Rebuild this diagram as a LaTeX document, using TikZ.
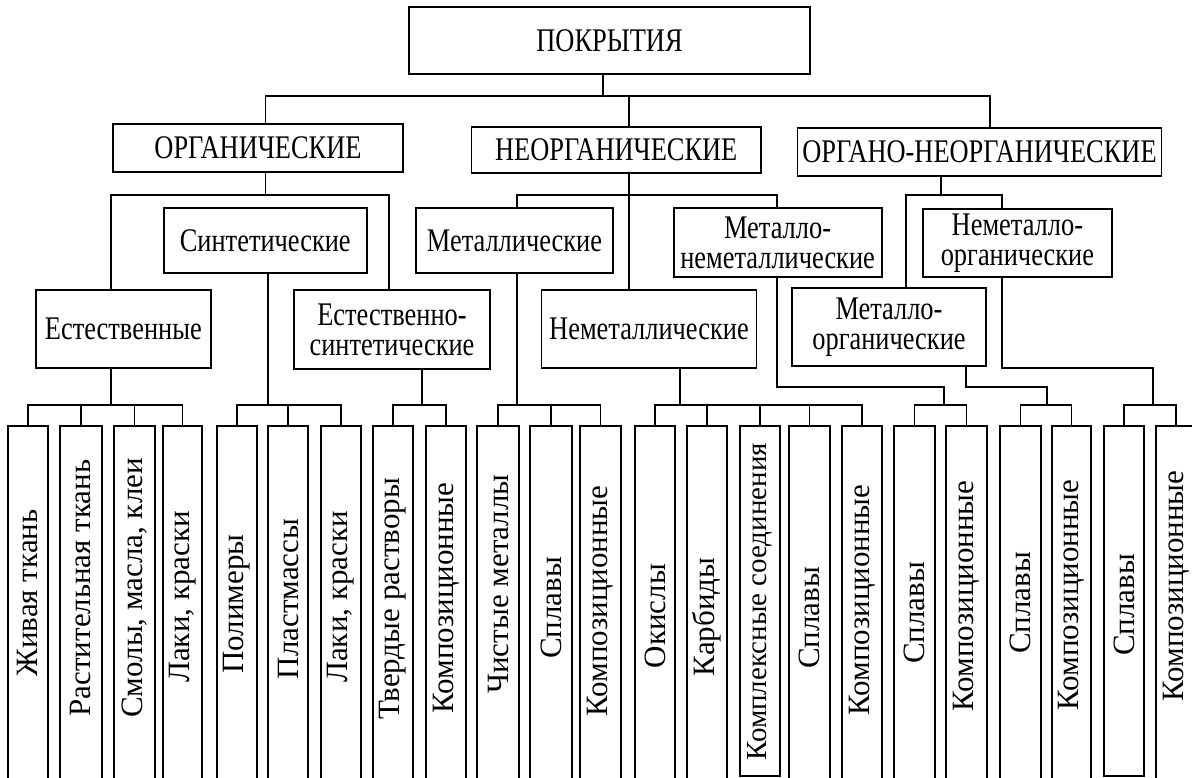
\documentclass[tikz,border=0pt]{standalone}
\usepackage{fontspec}
\setmainfont{Liberation Serif}
\newfontfamily\hfont[FakeStretch=0.8]{Liberation Serif}
\tikzset{
  box/.style={draw=black, line width=1.8pt, inner sep=0pt, align=center,
    font=\hfont\fontsize{33}{30}\selectfont},
  leaf/.style={draw=black, line width=1.8pt, inner sep=0pt, anchor=north},
  vtxt/.style={rotate=90, inner sep=0pt, font=\fontsize{31}{31}\selectfont},
  conn/.style={line width=1.8pt, line cap=rect},
}
\newcommand\leafbox[6]{%
  \node[leaf, minimum width={#3-#2}, minimum height=#6] (b#1) at ({(#2+#3)/2},425) {};
  \node[vtxt] (t#1) at ({(#2+#3)/2},#4) {#5};}
\begin{document}
\begin{tikzpicture}[x=1pt,y=-1pt]
\useasboundingbox (0,0) rectangle (1192,778);
\fill[white] (0,0) rectangle (1192,778);
\clip (0,0) rectangle (1192,778);
% upper boxes
\node[box, minimum width=401, minimum height=67] (pok) at (609.5,40.5) {ПОКРЫТИЯ};
\node[box, minimum width=290, minimum height=48] (org) at (258,148) {ОРГАНИЧЕСКИЕ};
\node[box, minimum width=289.5, minimum height=46] (neorg) at (616.25,150) {НЕОРГАНИЧЕСКИЕ};
\node[box, minimum width=364, minimum height=48] (orgneorg) at (979.5,152) {ОРГАНО-НЕОРГАНИЧЕСКИЕ};
\node[box, minimum width=202.6, minimum height=65] (sint) at (265.3,240.5) {Синтетические};
\node[box, minimum width=174.7, minimum height=78] (est) at (123.35,329) {Естественные};
\node[box, minimum width=196, minimum height=79] (estsint) at (392,329.5) {Естественно-\\синтетические};
\node[box, minimum width=197, minimum height=65] (met) at (514.5,240.5) {Металлические};
\node[box, minimum width=215, minimum height=78] (nemet) at (649,329) {Неметаллические};
\node[box, minimum width=208, minimum height=69] (metnemet) at (777.6,242.5) {Металло-\\неметаллические};
\node[box, minimum width=188.7, minimum height=68] (nemetorg) at (1017.4,243) {Неметалло-\\органические};
\node[box, minimum width=194, minimum height=78] (metorg) at (889,327) {Металло-\\органические};
% leaf boxes
\leafbox{1}{8}{48}{593}{Живая ткань}{375}
\leafbox{2}{60}{102}{588}{Растительная ткань}{375}
\leafbox{3}{114}{155}{588}{Смолы, масла, клеи}{375}
\leafbox{4}{163}{202}{597}{Лаки, краски}{375}
\leafbox{5}{217}{257}{604}{Полимеры}{375}
\leafbox{6}{268}{308}{599}{Пластмассы}{375}
\leafbox{7}{321}{361}{597}{Лаки, краски}{375}
\leafbox{8}{373}{413}{599}{Твердые растворы}{375}
\leafbox{9}{426}{466}{598}{Композиционные}{375}
\leafbox{10}{477}{519}{584}{Чистые металлы}{375}
\leafbox{11}{530}{572}{608}{Сплавы}{375}
\leafbox{12}{580}{621}{601}{Композиционные}{375}
\leafbox{13}{635}{675}{616}{Окислы}{375}
\leafbox{14}{687}{727}{617}{Карбиды}{375}
\leafbox{15}{740}{780}{602}{\fontsize{29}{29}\selectfont Комплексные соединения}{350}
\leafbox{16}{789}{830}{618}{Сплавы}{375}
\leafbox{17}{842}{882}{600}{Композиционные}{375}
\leafbox{18}{894}{935}{613}{Сплавы}{375}
\leafbox{19}{946}{987}{596}{Композиционные}{375}
\leafbox{20}{1000}{1041}{603}{Сплавы}{375}
\leafbox{21}{1052}{1091}{595}{Композиционные}{375}
\leafbox{22}{1104}{1144}{605}{Сплавы}{350}
\leafbox{23}{1156}{1196}{586}{Композиционные}{375}
% junction coordinates
\coordinate (jTop) at (603,96);
\coordinate (jOrg) at (265.5,96);
\coordinate (jNe) at (629,96);
\coordinate (jOn) at (990,96);
\coordinate (o1) at (265.5,195);
\coordinate (oL) at (111,195);
\coordinate (oR) at (389,195);
\coordinate (nL) at (517,195);
\coordinate (nR) at (777,195);
\coordinate (on1) at (941,195);
\coordinate (onL) at (906,195);
\coordinate (onR) at (1002,195);
\coordinate (eS) at (111,405);
\coordinate (sS) at (268,405);
\coordinate (esS) at (422,405);
\coordinate (mS) at (517,405);
\coordinate (nmS) at (680,405);
\coordinate (mn1) at (777,387);
\coordinate (mn2) at (944,387);
\coordinate (mnS) at (944,405);
\coordinate (mo1) at (966,387);
\coordinate (mo2) at (1047,387);
\coordinate (moS) at (1047,405);
\coordinate (no1) at (1002,368);
\coordinate (no2) at (1153,368);
\coordinate (noS) at (1153,405);
% first level
\draw[conn] (pok.south -| jTop) -- (jTop);
\draw[conn] (org.north -| jOrg) -- (jOrg) -- (jOn) -- (orgneorg.north -| jOn);
\draw[conn] (jNe) -- (neorg.north -| jNe);
% organic
\draw[conn] (org.south -| o1) -- (o1);
\draw[conn] (est.north -| oL) -- (oL) -- (oR) -- (estsint.north -| oR);
\draw[conn] (est.south -| eS) -- (eS);
\draw[conn] (sint.south -| sS) -- (sS);
\draw[conn] (estsint.south -| esS) -- (esS);
% inorganic
\draw[conn] (neorg.south -| jNe) -- (nemet.north -| jNe);
\draw[conn] (met.north -| nL) -- (nL) -- (nR) -- (metnemet.north -| nR);
\draw[conn] (met.south -| mS) -- (mS);
\draw[conn] (nemet.south -| nmS) -- (nmS);
\draw[conn] (metnemet.south -| mn1) -- (mn1) -- (mn2) -- (mnS);
% organo-inorganic
\draw[conn] (orgneorg.south -| on1) -- (on1);
\draw[conn] (metorg.north -| onL) -- (onL) -- (onR) -- (nemetorg.north -| onR);
\draw[conn] (metorg.south -| mo1) -- (mo1) -- (mo2) -- (moS);
\draw[conn] (nemetorg.south -| no1) -- (no1) -- (no2) -- (noS);
% bottom bars
\draw[conn] (b1.north) -- (b1.north |- eS) -- (b4.north |- eS) -- (b4.north);
\draw[conn] (b2.north) -- (b2.north |- eS);
\draw[conn] (b3.north) -- (b3.north |- eS);
\draw[conn] (b5.north) -- (b5.north |- sS) -- (b7.north |- sS) -- (b7.north);
\draw[conn] (b6.north) -- (b6.north |- sS);
\draw[conn] (b8.north) -- (b8.north |- esS) -- (b9.north |- esS) -- (b9.north);
\draw[conn] (b10.north) -- (b10.north |- mS) -- (b12.north |- mS) -- (b12.north);
\draw[conn] (b11.north) -- (b11.north |- mS);
\draw[conn] (b13.north) -- (b13.north |- nmS) -- (b17.north |- nmS) -- (b17.north);
\draw[conn] (b14.north) -- (b14.north |- nmS);
\draw[conn] (b15.north) -- (b15.north |- nmS);
\draw[conn] (b16.north) -- (b16.north |- nmS);
\draw[conn] (b18.north) -- (b18.north |- mnS) -- (b19.north |- mnS) -- (b19.north);
\draw[conn] (b20.north) -- (b20.north |- moS) -- (b21.north |- moS) -- (b21.north);
\draw[conn] (b22.north) -- (b22.north |- noS) -- (b23.north |- noS) -- (b23.north);
\end{tikzpicture}
\end{document}
